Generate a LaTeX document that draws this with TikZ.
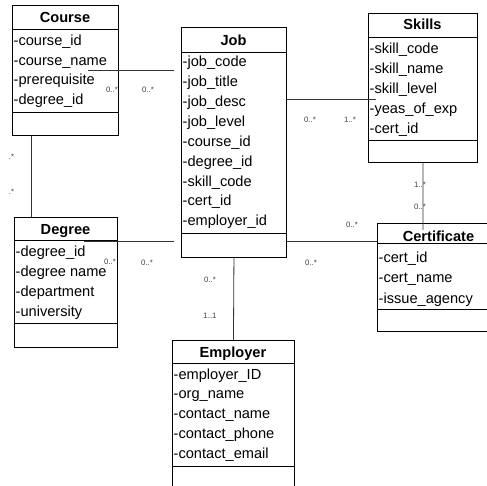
\documentclass[tikz,border=0pt]{standalone}
\usepackage{fontspec}
\setmainfont{Liberation Sans}
\begin{document}
\begin{tikzpicture}[x=1pt,y=-1pt,
  box/.style={draw=black,line width=0.9pt,anchor=north west,inner sep=0pt,fill=white},
  sepline/.style={draw=black,line width=0.9pt},
  ttl/.style={anchor=base,inner sep=0pt,font=\fontsize{14.6}{17}\selectfont\bfseries},
  attr/.style={anchor=base west,inner sep=0pt,font=\fontsize{14.6}{17}\selectfont},
  conn/.style={draw=black!80,line width=0.8pt},
  mult/.style={inner sep=0pt,text=black!75,font=\fontsize{7.8}{9}\selectfont}]
\path[use as bounding box] (0,0) rectangle (487,486);
\clip (0,0) rectangle (487,486);
\fill[white] (0,0) rectangle (487,486);

% ---------- connectors (behind boxes) ----------
\coordinate (cj1) at (88,70);
\coordinate (cj2) at (174,70);
\coordinate (dj1) at (84,241);
\coordinate (dj2) at (174,241);
\coordinate (js2) at (376,99);
\coordinate (sc2) at (423,230);

% ---------- Course ----------
\node[box,minimum width=106pt,minimum height=130pt] (course) at (12,5) {};
\draw[sepline] (12,29) -- (118,29) (12,112) -- (118,112);
\node[ttl] (course-t) at (65,23) {Course};
\foreach \t [count=\i] in {-course\_id,-course\_name,-prerequisite,-degree\_id}
  \node[attr] (course-\i) at (13.5,{46+19.5*(\i-1)}) {\t};

% ---------- Job ----------
\node[box,minimum width=105pt,minimum height=230pt] (job) at (181,27) {};
\draw[sepline] (181,52) -- (286,52) (181,233) -- (286,233);
\node[ttl] (job-t) at (233.5,45.5) {Job};
\foreach \t [count=\i] in {-job\_code,-job\_title,-job\_desc,-job\_level,-course\_id,-degree\_id,-skill\_code,-cert\_id,-employer\_id}
  \node[attr] (job-\i) at (182.5,{66.7+19.9*(\i-1)}) {\t};

% ---------- Skills ----------
\node[box,minimum width=109pt,minimum height=149pt] (skills) at (368,13) {};
\draw[sepline] (368,37) -- (477,37) (368,140) -- (477,140);
\node[ttl] (skills-t) at (422.5,30) {Skills};
\foreach \t [count=\i] in {-skill\_code,-skill\_name,-skill\_level,-yeas\_of\_exp,-cert\_id}
  \node[attr] (skills-\i) at (369.5,{53.3+20*(\i-1)}) {\t};

% ---------- Degree ----------
\node[box,minimum width=103pt,minimum height=130pt] (degree) at (14,217) {};
\draw[sepline] (14,240) -- (117,240) (14,323) -- (117,323);
\node[ttl] (degree-t) at (65.5,235) {Degree};
\foreach \t [count=\i] in {-degree\_id,-degree name,-department,-university}
  \node[attr] (degree-\i) at (15.5,{256.7+20*(\i-1)}) {\t};

% ---------- Certificate ----------
\node[box,minimum width=120pt,minimum height=108pt] (cert) at (377,223) {};
\draw[sepline] (377,243) -- (497,243) (377,309) -- (497,309);
\node[ttl] (cert-t) at (438.5,242) {Certificate};
\foreach \t [count=\i] in {-cert\_id,-cert\_name,-issue\_agency}
  \node[attr] (cert-\i) at (378.5,{263+20*(\i-1)}) {\t};

% ---------- Employer ----------
\node[box,minimum width=122pt,minimum height=160pt] (employer) at (172,340) {};
\draw[sepline] (172,363) -- (294,363) (172,466) -- (294,466);
\node[ttl] (employer-t) at (233,357) {Employer};
\foreach \t [count=\i] in {-employer\_ID,-org\_name,-contact\_name,-contact\_phone,-contact\_email}
  \node[attr] (employer-\i) at (173.5,{379+19.8*(\i-1)}) {\t};

% ---------- connector lines ----------
\draw[conn] (cj1) -- (cj2);
\draw[conn] (dj1) -- (dj2);
\draw[conn] (course.south -| 31,0) -- (degree.north -| 31,0);
\draw[conn] (job.east |- 0,99) -- (js2);
\draw[conn] (job.east |- 0,241) -- (cert.west |- 0,241);
\draw[conn] (job.south) -- (employer.north);
\draw[conn] (skills.south) -- (sc2);

% ---------- multiplicities ----------
\node[mult] (m1) at (112,90) {0..*};
\node[mult] (m2) at (148,90) {0..*};
\node[mult] (m3) at (11.5,157) {.*};
\node[mult] (m4) at (11.5,192) {.*};
\node[mult] (m5) at (110,262) {0..*};
\node[mult] (m6) at (147,263) {0..*};
\node[mult] (m7) at (310,120) {0..*};
\node[mult] (m8) at (350,120) {1..*};
\node[mult] (m9) at (420,185) {1..*};
\node[mult] (m10) at (420,207) {0..*};
\node[mult] (m11) at (352,225) {0..*};
\node[mult] (m12) at (311,263) {0..*};
\node[mult] (m13) at (210,280) {0..*};
\node[mult] (m14) at (210,316) {1..1};
\end{tikzpicture}
\end{document}
